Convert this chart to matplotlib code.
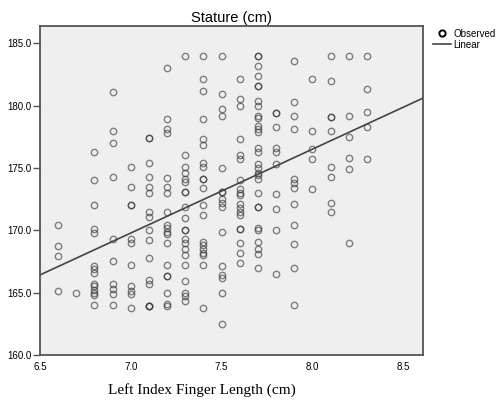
import numpy as np
import matplotlib
matplotlib.use('Agg')
import matplotlib.pyplot as plt
from matplotlib.lines import Line2D
from matplotlib.ticker import FormatStrFormatter

# Finger length (cm) -> statures (cm)
finger_6_6 = [170.4, 168.7, 167.9, 165.1]
finger_6_7 = [165.0]
finger_6_8 = [176.3, 174.0, 172.0, 170.1, 169.8, 167.1, 166.9, 166.6, 165.7, 165.5,
              165.2, 165.0, 164.8, 164.0]
finger_6_9 = [181.1, 178.0, 177.0, 174.3, 169.3, 167.5, 165.7, 165.3, 164.9, 164.0]
finger_7_0 = [175.1, 173.5, 172.0, 172.0, 169.3, 169.0, 167.2, 165.5, 165.1, 164.9, 163.8]
finger_7_1 = [177.4, 177.4, 175.4, 174.3, 173.5, 173.0, 171.5, 171.1, 170.0, 169.2,
              167.8, 166.0, 165.7, 163.9, 163.9, 163.9]
finger_7_2 = [183.0, 178.9, 178.1, 177.8, 174.2, 173.5, 173.0, 171.5, 170.4, 170.2,
              169.9, 169.7, 169.0, 167.2, 166.3, 166.3, 165.0, 164.1, 163.9]
finger_7_3 = [184.0, 176.0, 175.1, 174.6, 174.1, 173.9, 173.1, 173.1, 171.9, 171.0,
              170.0, 170.0, 169.3, 169.0, 168.5, 168.0, 167.2, 165.9, 165.0, 164.7, 164.3]
finger_7_4 = [184.0, 182.1, 181.2, 178.9, 177.3, 176.8, 175.4, 175.1, 174.1, 174.1,
              173.4, 172.0, 171.2, 169.1, 168.8, 168.5, 168.2, 168.0, 167.2, 163.8]
finger_7_5 = [184.0, 180.9, 179.7, 179.2, 175.0, 173.1, 173.1, 172.5, 172.2, 171.9,
              169.9, 167.1, 166.4, 166.2, 165.0, 162.5]
finger_7_6 = [182.1, 180.5, 180.0, 177.3, 176.0, 175.7, 174.0, 173.3, 173.0, 172.8,
              172.1, 171.8, 171.5, 171.2, 170.1, 170.1, 169.0, 168.2, 167.4]
finger_7_7 = [184.0, 184.0, 183.2, 182.4, 181.6, 181.6, 180.4, 180.0, 179.2, 179.0,
              178.4, 178.1, 177.9, 176.6, 176.3, 175.3, 175.0, 174.6, 174.4, 174.1,
              173.0, 171.9, 171.9, 170.2, 170.0, 169.1, 168.5, 168.1, 167.0]
finger_7_8 = [179.4, 179.4, 178.3, 176.6, 176.3, 175.3, 172.9, 171.7, 170.0, 166.5]
finger_7_9 = [183.6, 180.3, 179.2, 178.1, 174.1, 173.8, 173.4, 172.1, 170.4, 168.9,
              167.0, 164.0]
finger_8_0 = [182.1, 178.0, 176.5, 175.7, 173.3]
finger_8_1 = [184.0, 182.0, 179.1, 179.1, 178.0, 175.1, 174.3, 172.2, 171.5]
finger_8_2 = [184.0, 179.2, 177.5, 175.8, 174.9, 169.0]
finger_8_3 = [184.0, 181.3, 179.5, 178.3, 175.7]

finger_lengths = [6.6, 6.7, 6.8, 6.9, 7.0, 7.1, 7.2, 7.3, 7.4, 7.5,
                  7.6, 7.7, 7.8, 7.9, 8.0, 8.1, 8.2, 8.3]
statures = [finger_6_6, finger_6_7, finger_6_8, finger_6_9, finger_7_0, finger_7_1,
            finger_7_2, finger_7_3, finger_7_4, finger_7_5, finger_7_6, finger_7_7,
            finger_7_8, finger_7_9, finger_8_0, finger_8_1, finger_8_2, finger_8_3]

x_ticks = [6.5, 7.0, 7.5, 8.0, 8.5]
y_ticks = [160.0, 165.0, 170.0, 175.0, 180.0, 185.0]

x = np.concatenate([[fl] * len(s) for fl, s in zip(finger_lengths, statures)])
y = np.concatenate(statures)

# Linear fit like the SPSS curve estimation
slope, intercept = np.polyfit(x, y, 1)

fig = plt.figure(figsize=(4.96, 4.0), dpi=100)
ax = fig.add_axes([40 / 496, 45 / 400, 383.3 / 496, 329 / 400])
ax.set_facecolor('#efefef')

ax.plot(x, y, 'o', markersize=4.6, markerfacecolor='none',
        markeredgecolor='#333333', markeredgewidth=1.0, alpha=0.6)

ax.set_xlim(6.5, 8.61)
ax.set_ylim(160, 186.38)
xx = np.array(ax.get_xlim())
ax.plot(xx, intercept + slope * xx, color='#444444', linewidth=1.2)

ax.set_xticks(x_ticks)
ax.set_yticks(y_ticks)
ax.xaxis.set_major_formatter(FormatStrFormatter('%.1f'))
ax.yaxis.set_major_formatter(FormatStrFormatter('%.1f'))
for lab in ax.get_xticklabels() + ax.get_yticklabels():
    lab.set_family('Liberation Sans')
    lab.set_fontsize(7)
ax.tick_params(axis='y', direction='out', length=5, width=1, color='#555555', pad=1)
ax.tick_params(axis='x', direction='out', length=0, pad=5)

for sp in ax.spines.values():
    sp.set_color('#555555')
    sp.set_linewidth(1.3)

ax.set_title('Stature (cm)', family='Liberation Sans', fontsize=10.5, pad=3)
fig.text(202 / 496, 10 / 400, 'Left Index Finger Length (cm)', family='Liberation Serif',
         fontsize=11, ha='center', va='center')

handles = [Line2D([], [], marker='o', linestyle='none', markersize=4.5,
                  markerfacecolor='none', markeredgecolor='black', markeredgewidth=1.4,
                  label='Observed'),
           Line2D([], [], color='#444444', linewidth=1.2, label='Linear')]
fig.legend(handles=handles, loc='upper left', bbox_to_anchor=(428 / 496, 1 - 24 / 400),
           frameon=False, prop={'family': 'Liberation Sans', 'size': 7},
           handlelength=1.9, handletextpad=0.2, labelspacing=0.1, borderpad=0)

fig.savefig('out.png', dpi=100)
